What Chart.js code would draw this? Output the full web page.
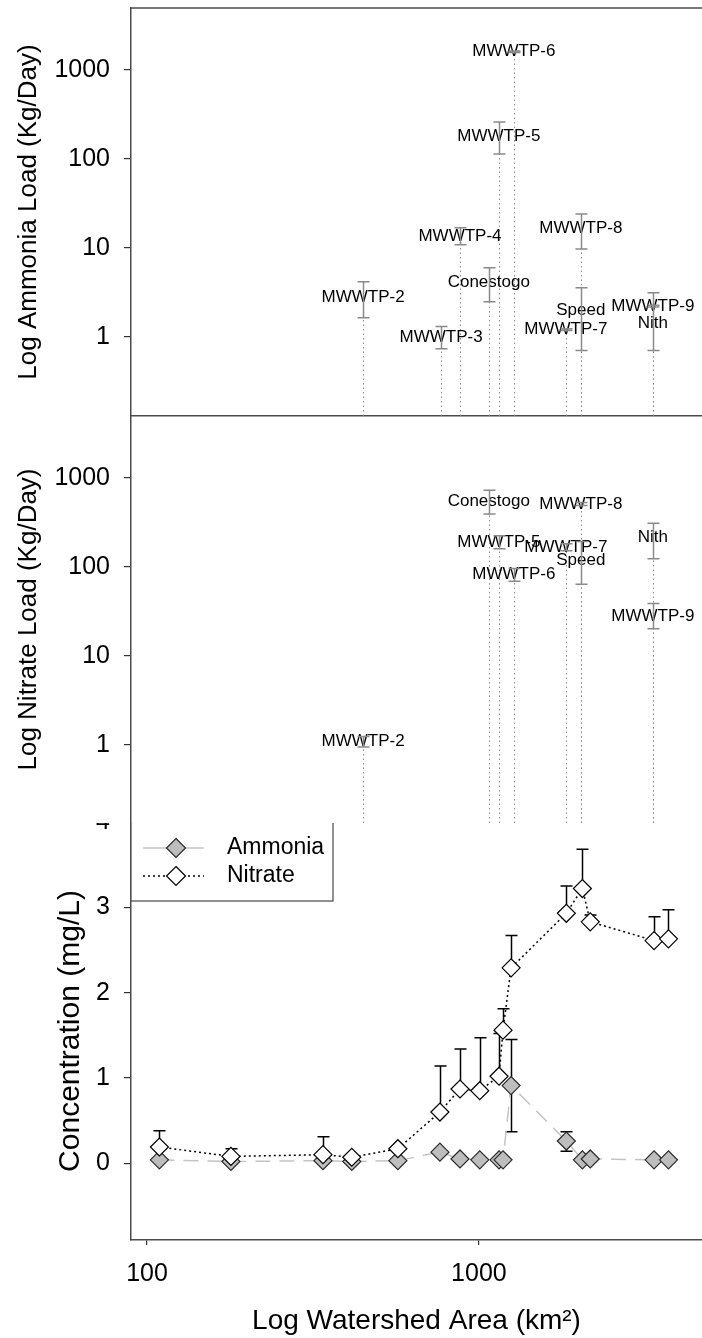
<!DOCTYPE html>
<html>
<head>
<meta charset="utf-8">
<script src="https://cdn.jsdelivr.net/npm/chart.js@4/dist/chart.umd.min.js"></script>
<style>
  html, body { margin: 0; padding: 0; background: #fff; }
  #wrap { position: relative; width: 702px; height: 1338px; overflow: hidden; }
  canvas { position: absolute; left: 0; }
  #loadNh3 { top: 0; z-index: 3; }
  #loadNo3 { top: 416px; z-index: 2; }
  #conc { top: 790px; z-index: 1; }
</style>
</head>
<body>
<div id="wrap">
  <canvas id="loadNh3" width="702" height="418"></canvas>
  <canvas id="loadNo3" width="702" height="407"></canvas>
  <canvas id="conc" width="702" height="548"></canvas>
</div>
<script>
// point sources (top two panels)
const siteNames = ['MWWTP-2', 'MWWTP-3', 'MWWTP-4', 'Conestogo', 'MWWTP-5', 'MWWTP-6', 'MWWTP-7', 'MWWTP-8', 'Speed', 'MWWTP-9', 'Nith'];
const siteArea = [448, 769, 877, 1071, 1148, 1274, 1828, 2028, 2028, 3342, 3342];

const ammoniaLoad   = [2.8, 0.97, 13.5, 4.1, 180, 1600, 1.2, 16.5, 2.0, 2.2, 1.4];
const ammoniaLoadLo = [1.63, 0.73, 10.8, 2.47, 113, 1570, 1.17, 9.7, 0.70, 2.15, 0.70];
const ammoniaLoadHi = [4.15, 1.30, 16.8, 5.95, 260, 1630, 1.23, 24, 3.55, 2.25, 3.12];

const nitrateLoad   = [1.1, null, null, 540, 189, 82, 166, 510, 120, 28, 215];
const nitrateLoadLo = [0.95, null, null, 393, 160, 69, 152, 490, 64, 20.2, 124];
const nitrateLoadHi = [1.25, null, null, 726, 224, 96, 182, 530, 194, 39, 311];

// river sampling sites (bottom panel)
const concArea = [109, 179, 339, 414, 570, 763, 877, 1006, 1150, 1182, 1250, 1834, 2050, 2165, 3370, 3725];
const ammoniaConc   = [0.04, 0.02, 0.03, 0.02, 0.03, 0.13, 0.05, 0.04, 0.04, 0.04, 0.91, 0.26, 0.04, 0.05, 0.04, 0.04];
const ammoniaConcLo = [null, null, null, null, null, null, null, null, null, null, 0.37, 0.14, null, null, null, null];
const ammoniaConcHi = [null, null, null, null, null, null, null, null, null, null, 1.45, 0.37, null, null, null, null];
const nitrateConc   = [0.19, 0.08, 0.10, 0.07, 0.17, 0.60, 0.87, 0.85, 1.02, 1.56, 2.29, 2.93, 3.22, 2.83, 2.61, 2.63];
const nitrateConcHi = [0.38, 0.17, 0.31, null, null, 1.14, 1.34, 1.47, 1.52, 1.81, 2.67, 3.25, 3.68, 2.91, 2.89, 2.97];

const loadTicks = [1, 10, 100, 1000];
const concTicks = [0, 1, 2, 3, 4];
const areaTicks = [100, 1000];

const FONT = '"Liberation Sans", Arial, Helvetica, sans-serif';
const AXIS = '#4a4a4a';
Chart.defaults.font.family = FONT;
Chart.defaults.color = '#000';
Chart.defaults.animation = false;

// drop lines, labels and error bars of the load panels
const loadMarks = {
  id: 'loadMarks',
  beforeDatasetsDraw(chart) {
    const { ctx, chartArea, scales: { x, y } } = chart;
    const ds = chart.data.datasets[0];
    ctx.save();
    ctx.strokeStyle = '#8c8c8c';
    ctx.lineWidth = 1;
    ctx.setLineDash([1.5, 3]);
    ds.data.forEach(p => {
      if (p.y == null) return;
      const px = Math.round(x.getPixelForValue(p.x)) + 0.5;
      ctx.beginPath();
      ctx.moveTo(px, chartArea.bottom);
      ctx.lineTo(px, y.getPixelForValue(p.y));
      ctx.stroke();
    });
    ctx.setLineDash([]);
    ctx.fillStyle = '#000';
    ctx.font = '17px ' + FONT;
    ctx.textAlign = 'center';
    ctx.textBaseline = 'middle';
    ds.data.forEach((p, i) => {
      if (p.y == null) return;
      ctx.fillText(ds.names[i], x.getPixelForValue(p.x), y.getPixelForValue(p.y));
    });
    ctx.strokeStyle = '#8a8a8a';
    ctx.lineWidth = 1.5;
    ds.data.forEach((p, i) => {
      if (ds.lo[i] == null) return;
      const px = Math.round(x.getPixelForValue(p.x)) + 0.5;
      const y1 = y.getPixelForValue(ds.lo[i]);
      const y2 = y.getPixelForValue(ds.hi[i]);
      ctx.beginPath();
      ctx.moveTo(px, y1); ctx.lineTo(px, y2);
      ctx.moveTo(px - 6, y1); ctx.lineTo(px + 6, y1);
      ctx.moveTo(px - 6, y2); ctx.lineTo(px + 6, y2);
      ctx.stroke();
    });
    ctx.restore();
  }
};

const whiteBg = {
  id: 'whiteBg',
  beforeDraw(chart) {
    const ctx = chart.ctx;
    ctx.save();
    ctx.fillStyle = '#fff';
    ctx.fillRect(0, 0, chart.width, chart.height);
    ctx.restore();
  }
};

const topFrame = {
  id: 'topFrame',
  afterDraw(chart) {
    const { ctx, chartArea } = chart;
    ctx.save();
    ctx.strokeStyle = AXIS;
    ctx.lineWidth = 1.5;
    ctx.beginPath();
    ctx.moveTo(chartArea.left - 0.75, chartArea.top);
    ctx.lineTo(chartArea.right, chartArea.top);
    ctx.stroke();
    ctx.restore();
  }
};

function yLoadAxis(title, min) {
  return {
    type: 'logarithmic',
    min: min,
    max: 4970,
    afterBuildTicks: s => { s.ticks = loadTicks.map(v => ({ value: v })); },
    afterFit: s => { s.width = 131; s.paddingTop = 0; s.paddingBottom = 0; },
    ticks: { callback: v => String(v), color: '#000', font: { size: 25 }, padding: 14 },
    grid: { drawOnChartArea: false, tickLength: 7, color: '#333', lineWidth: 1.2 },
    border: { color: AXIS, width: 1.5 },
    title: { display: true, text: title, color: '#000', font: { size: 26 }, padding: { top: 13, bottom: 0 } }
  };
}

function hiddenX(showLine) {
  return {
    type: 'logarithmic',
    min: 89.5,
    max: 4700,
    afterFit: s => { s.height = 0; s.paddingLeft = 0; s.paddingRight = 0; },
    ticks: { display: false },
    grid: { drawOnChartArea: false, drawTicks: false },
    border: { display: showLine, color: AXIS, width: 1.5 }
  };
}

function loadChart(id, title, values, lo, hi, yMin, pad, showBottom, extra) {
  return new Chart(document.getElementById(id), {
    type: 'scatter',
    data: {
      datasets: [{
        label: title,
        data: siteArea.map((a, i) => ({ x: a, y: values[i] })),
        lo: lo,
        hi: hi,
        names: siteNames,
        pointRadius: 0,
        pointHoverRadius: 0
      }]
    },
    options: {
      responsive: false,
      devicePixelRatio: 1,
      layout: { padding: pad, autoPadding: false },
      plugins: { legend: { display: false }, tooltip: { enabled: false } },
      scales: { x: hiddenX(showBottom), y: yLoadAxis(title, yMin) }
    },
    plugins: [loadMarks].concat(extra)
  });
}

loadChart('loadNh3', 'Log Ammonia Load (Kg/Day)', ammoniaLoad, ammoniaLoadLo, ammoniaLoadHi, 0.128,
  { top: 8, bottom: 2, left: 0, right: 0 }, true, [topFrame]);
loadChart('loadNo3', 'Log Nitrate Load (Kg/Day)', nitrateLoad, nitrateLoadLo, nitrateLoadHi, 0.133,
  { top: 0, bottom: 0, left: 0, right: 0 }, false, [whiteBg]);

// error bars of the concentration panel
const concBars = {
  id: 'concBars',
  beforeDatasetsDraw(chart) {
    const { ctx, scales: { x, y } } = chart;
    ctx.save();
    ctx.strokeStyle = '#000';
    ctx.lineWidth = 1.5;
    chart.data.datasets.forEach(ds => {
      ds.data.forEach((p, i) => {
        const lo = ds.lo[i], hi = ds.hi[i];
        if (lo == null && hi == null) return;
        const px = Math.round(x.getPixelForValue(p.x)) + 0.5;
        const y1 = y.getPixelForValue(lo == null ? p.y : lo);
        const y2 = y.getPixelForValue(hi == null ? p.y : hi);
        ctx.beginPath();
        ctx.moveTo(px, y1); ctx.lineTo(px, y2);
        if (lo != null) { ctx.moveTo(px - 6, y1); ctx.lineTo(px + 6, y1); }
        if (hi != null) { ctx.moveTo(px - 6, y2); ctx.lineTo(px + 6, y2); }
        ctx.stroke();
      });
    });
    ctx.restore();
  }
};

// boxed legend in the top left corner, line sample + marker
const boxLegend = {
  id: 'boxLegend',
  afterDraw(chart) {
    const { ctx, chartArea } = chart;
    const left = chartArea.left, top = chartArea.top - 2;
    const w = 202, h = 81;
    ctx.save();
    ctx.fillStyle = '#fff';
    ctx.fillRect(left, top, w, h);
    ctx.strokeStyle = '#555';
    ctx.lineWidth = 1.3;
    ctx.strokeRect(left, top, w, h);
    [1, 0].forEach((di, row) => {
      const ds = chart.data.datasets[di];
      const cy = chartArea.top + 26 + row * 28;
      ctx.strokeStyle = ds.borderColor;
      ctx.lineWidth = ds.borderWidth;
      ctx.setLineDash(ds.legendDash);
      ctx.beginPath();
      ctx.moveTo(left + 12, cy); ctx.lineTo(left + 73, cy);
      ctx.stroke();
      ctx.setLineDash([]);
      const cx = left + 45, r = 9.5;
      ctx.beginPath();
      ctx.moveTo(cx, cy - r); ctx.lineTo(cx + r, cy); ctx.lineTo(cx, cy + r); ctx.lineTo(cx - r, cy);
      ctx.closePath();
      ctx.fillStyle = ds.pointBackgroundColor;
      ctx.fill();
      ctx.strokeStyle = ds.pointBorderColor;
      ctx.lineWidth = 1.2;
      ctx.stroke();
      ctx.fillStyle = '#000';
      ctx.font = '23px ' + FONT;
      ctx.textAlign = 'left';
      ctx.textBaseline = 'middle';
      ctx.fillText(ds.label, left + 96, cy);
    });
    ctx.restore();
  }
};

new Chart(document.getElementById('conc'), {
  type: 'scatter',
  data: {
    datasets: [
      {
        label: 'Nitrate',
        data: concArea.map((a, i) => ({ x: a, y: nitrateConc[i] })),
        lo: concArea.map(() => null),
        hi: nitrateConcHi,
        showLine: true,
        borderColor: '#000',
        borderWidth: 1.5,
        borderDash: [2, 3],
        legendDash: [2, 3],
        pointStyle: 'rectRot',
        pointRadius: 9,
        pointHoverRadius: 9,
        pointBackgroundColor: '#fff',
        pointBorderColor: '#000',
        pointBorderWidth: 1.2
      },
      {
        label: 'Ammonia',
        data: concArea.map((a, i) => ({ x: a, y: ammoniaConc[i] })),
        lo: ammoniaConcLo,
        hi: ammoniaConcHi,
        showLine: true,
        borderColor: '#c4c4c4',
        borderWidth: 1.5,
        borderDash: [15, 9],
        legendDash: [],
        pointStyle: 'rectRot',
        pointRadius: 9,
        pointHoverRadius: 9,
        pointBackgroundColor: '#bdbdbd',
        pointBorderColor: '#2a2a2a',
        pointBorderWidth: 1.2
      }
    ]
  },
  options: {
    responsive: false,
    devicePixelRatio: 1,
    layout: { padding: { top: 32, bottom: 0, left: 0, right: 0 }, autoPadding: false },
    plugins: { legend: { display: false }, tooltip: { enabled: false } },
    scales: {
      x: {
        type: 'logarithmic',
        min: 89.5,
        max: 4700,
        afterBuildTicks: s => { s.ticks = areaTicks.map(v => ({ value: v })); },
        afterFit: s => { s.height = 98; s.paddingLeft = 0; s.paddingRight = 0; },
        ticks: { callback: v => String(v), color: '#000', font: { size: 25 }, padding: 14, maxRotation: 0, autoSkip: false },
        grid: { drawOnChartArea: false, tickLength: 5, color: '#333', lineWidth: 1.2 },
        border: { color: AXIS, width: 1.5 },
        title: { display: true, text: 'Log Watershed Area (km²)', color: '#000', font: { size: 28 }, padding: { top: 0, bottom: 0 } }
      },
      y: {
        type: 'linear',
        min: -0.9,
        max: 4,
        afterBuildTicks: s => { s.ticks = concTicks.map(v => ({ value: v })); },
        afterFit: s => { s.width = 131; s.paddingTop = 0; s.paddingBottom = 0; },
        ticks: { callback: v => String(v), color: '#000', font: { size: 25 }, padding: 14 },
        grid: { drawOnChartArea: false, tickLength: 7, color: '#333', lineWidth: 1.2 },
        border: { color: AXIS, width: 1.5 },
        title: { display: true, text: 'Concentration (mg/L)', color: '#000', font: { size: 30 }, padding: { top: 53, bottom: 0 } }
      }
    }
  },
  plugins: [concBars, boxLegend]
});
</script>
</body>
</html>
